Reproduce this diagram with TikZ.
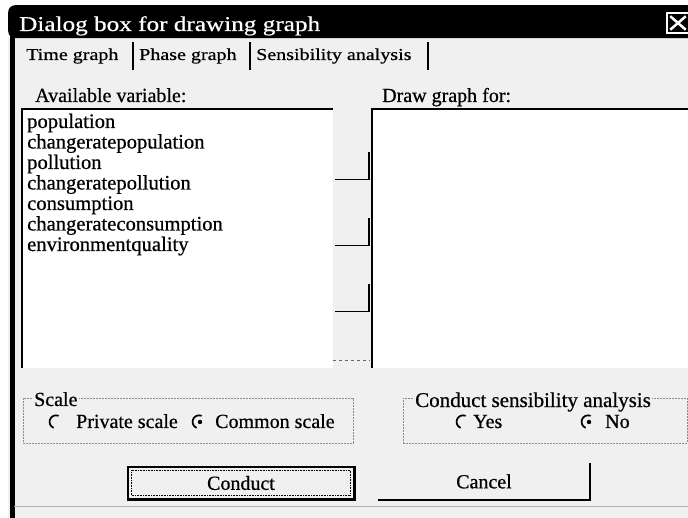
\documentclass[tikz,border=0pt]{standalone}
\usepackage{fontspec}
\setmainfont{Liberation Serif}[FakeBold=0.6]
\newfontfamily\widefont{Liberation Serif}[FakeStretch=1.2, FakeBold=0.6]

\begin{document}
\begin{tikzpicture}[x=1pt, y=-1pt,
  panel/.style={rectangle, fill=black!6, inner sep=0pt, anchor=north west},
  listbox/.style={rectangle, fill=white, inner sep=0pt, anchor=north west},
  titletext/.style={font=\widefont\fontsize{21}{24}\selectfont, text=white,
    anchor=base west, inner sep=0pt},
  tabtext/.style={font=\widefont\fontsize{16.7}{19}\selectfont, anchor=base west,
    inner sep=0pt},
  bodytext/.style={font=\fontsize{20}{22}\selectfont, anchor=base west, inner sep=0pt},
  itemtext/.style={bodytext, font=\fontsize{20.6}{22}\selectfont},
  grouplbl/.style={bodytext, fill=black!6, inner sep=1pt},
  groupbox/.style={rectangle, draw=black!45, dash pattern=on 2pt off 1pt,
    line width=0.6pt, anchor=north west, inner sep=0pt},
  radiobtn/.style={circle, minimum size=13pt, inner sep=0pt},
  radioarc/.style={line width=1.7pt, line cap=round},
  btnbox/.style={rectangle, inner sep=0pt, font=\fontsize{20}{22}\selectfont}
]
\useasboundingbox[fill=white] (0,0) rectangle (688,518);

% ---------- Window frame ----------
\node[panel, minimum width=690pt, minimum height=490pt] (body) at (8,38) {};
\node[fill=black, rounded corners=7pt, minimum width=700pt, minimum height=33pt,
  anchor=north west, inner sep=0pt] (titlebar) at (8,5) {};
\draw[line width=5pt] (12,30) -- (12,518);
\draw[black!30, line width=1pt] (14,506) -- (688,506);

\node[titletext] (title) at (19,31) {Dialog box for drawing graph};
\node[draw=white, line width=1.5pt, minimum width=22pt, minimum height=20pt,
  inner sep=0pt] (closebox) at (678,23) {};
\draw[white, line width=2.5pt] ([shift={(4pt,-4pt)}]closebox.north west)
  -- ([shift={(-4pt,4pt)}]closebox.south east);
\draw[white, line width=2.5pt] ([shift={(4pt,4pt)}]closebox.south west)
  -- ([shift={(-4pt,-4pt)}]closebox.north east);

% ---------- Tabs ----------
\node[tabtext] (tabtime) at (26,60) {Time graph};
\node[tabtext] (tabphase) at (139,60) {Phase graph};
\node[tabtext] (tabsens) at (256,60) {Sensibility analysis};
\foreach \x in {133,250,428}
  \draw[line width=1.2pt] (\x,42) -- (\x,70);

% ---------- Variable lists ----------
\node[bodytext] (lblavail) at (35,102) {Available variable:};
\node[bodytext] (lbldraw) at (382,102) {Draw graph for:};

\node[listbox, minimum width=311pt, minimum height=259pt] (listvar) at (22,109) {};
\draw[line width=1.8pt] (listvar.south west) -- (listvar.north west) -- (listvar.north east);
\node[listbox, minimum width=320pt, minimum height=259pt] (listdraw) at (372,109) {};
\draw[line width=1.5pt] (listdraw.south west) -- (listdraw.north west) -- (listdraw.north east);

\foreach \v [count=\i from 0] in {population, changeratepopulation, pollution,
    changeratepollution, consumption, changerateconsumption, environmentquality}
  \node[itemtext] (var\i) at (27,{128+20.5*\i}) {\v};

% scroll notches between the lists
\foreach \y in {180,246,312} {
  \draw[line width=1pt] (335,\y) -- (370,\y);
  \draw[line width=2.5pt] (369,{\y-28}) -- (369,\y);
}
\draw[black!60, dashed, line width=0.8pt] (333,360) -- (370,360);

% ---------- Scale group ----------
\node[groupbox, minimum width=330pt, minimum height=45pt] (grpscale) at (23,398) {};
\node[grouplbl] (lblscale) at (33,406) {Scale};
\node[radiobtn] (rprivate) at (56,422) {};
\draw[radioarc] (rprivate.70) arc[start angle=70, end angle=245, radius=6.5pt];
\node[bodytext] (txtprivate) at (76,428) {Private scale};
\node[radiobtn] (rcommon) at (199,422) {};
\draw[radioarc] (rcommon.70) arc[start angle=70, end angle=245, radius=6.5pt];
\fill ([xshift=1pt]rcommon.center) circle[radius=2.2pt];
\node[bodytext] (txtcommon) at (215,428) {Common scale};

% ---------- Sensibility group ----------
\node[groupbox, minimum width=284pt, minimum height=45pt] (grpsens) at (403,398) {};
\node[grouplbl, font=\fontsize{21}{23}\selectfont] (lblsens) at (414,407)
  {Conduct sensibility analysis};
\node[radiobtn] (ryes) at (463,422) {};
\draw[radioarc] (ryes.70) arc[start angle=70, end angle=245, radius=6.5pt];
\node[bodytext] (txtyes) at (473,428) {Yes};
\node[radiobtn] (rno) at (588,422) {};
\draw[radioarc] (rno.70) arc[start angle=70, end angle=245, radius=6.5pt];
\fill ([xshift=1pt]rno.center) circle[radius=2.2pt];
\node[bodytext] (txtno) at (605,428) {No};

% ---------- Buttons ----------
\node[btnbox, draw, line width=1.2pt, minimum width=226pt, minimum height=32pt]
  (conduct) at (241,483) {Conduct};
\draw[line width=3pt] (conduct.south west) -- (conduct.south east) -- (conduct.north east);
\draw[densely dotted, line width=0.6pt] ([shift={(4pt,-4pt)}]conduct.north west)
  rectangle ([shift={(-4pt,4pt)}]conduct.south east);

\node[btnbox, minimum width=212pt, minimum height=37pt] (cancel) at (484,481.5) {Cancel};
\draw[line width=1.5pt] (cancel.south west) -- (cancel.south east) -- (cancel.north east);

\end{tikzpicture}
\end{document}
